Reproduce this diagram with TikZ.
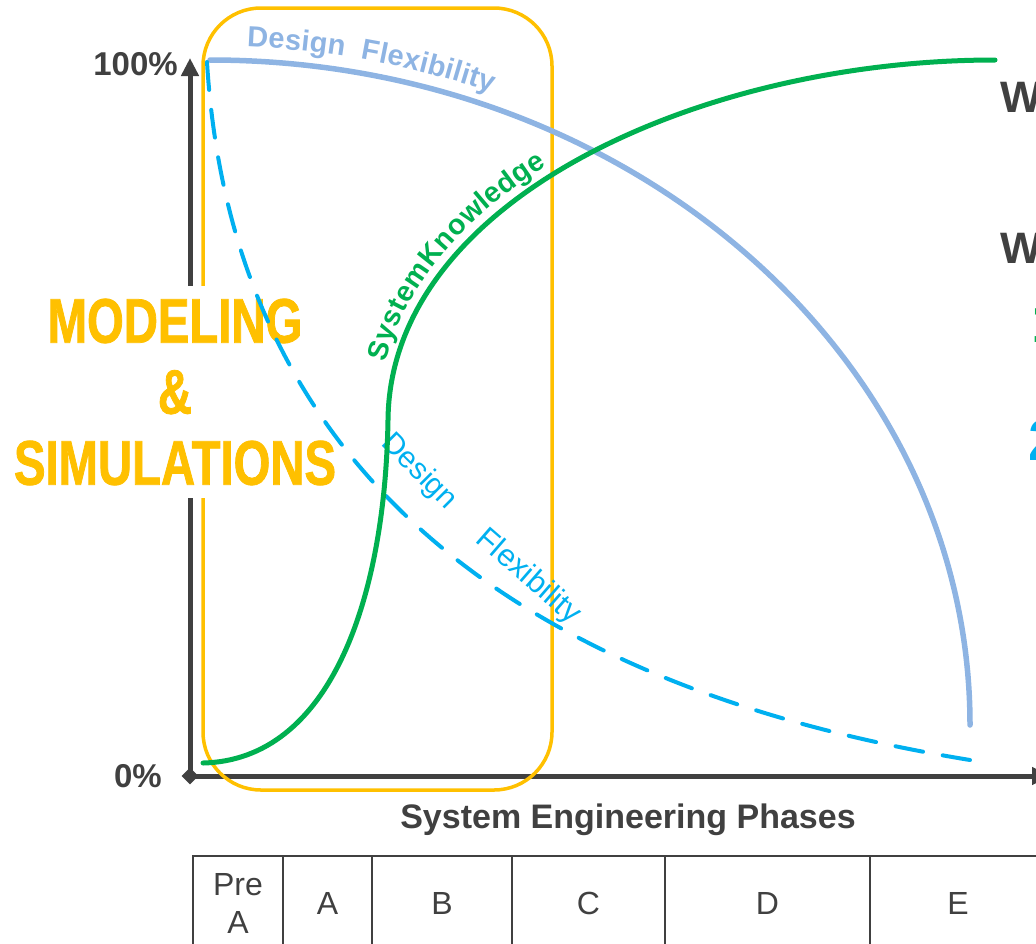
\documentclass[tikz,border=0pt]{standalone}
\usepackage{fontspec}
\setmainfont{Liberation Sans}
\newfontfamily\condfont{Liberation Sans}[FakeStretch=0.75,FakeBold=1.2]
\usetikzlibrary{positioning,arrows.meta,shapes.geometric,decorations.text}

\definecolor{msyellow}{HTML}{FFC000}
\definecolor{flexblue}{HTML}{8EB4E3}
\definecolor{dashblue}{HTML}{00B0F0}
\definecolor{knowgreen}{HTML}{00B050}
\definecolor{axisgray}{HTML}{404040}

\tikzset{
  axis/.style={draw=axisgray, line width=5pt},
  flexline/.style={draw=flexblue, line width=5.5pt, line cap=round},
  flexdash/.style={draw=dashblue, line width=4pt, line cap=round, dash pattern=on 28pt off 20pt},
  knowline/.style={draw=knowgreen, line width=5pt, line cap=round},
  phase/.style={draw=axisgray, line width=1.5pt, minimum height=94pt, outer sep=0pt, inner sep=0pt,
    align=center, text=axisgray, font=\fontsize{32}{38}\selectfont},
  ticklabel/.style={anchor=base east, inner sep=0pt, text=axisgray, font=\bfseries\fontsize{33}{36}\selectfont},
  edgetext/.style={anchor=base west, inner sep=0pt, font=\bfseries\fontsize{44}{48}\selectfont}
}

\begin{document}
\begin{tikzpicture}[x=1pt, y=-1pt]
\useasboundingbox (0,0) rectangle (1036,943);

% axes
\coordinate (origin) at (190,776);
\coordinate (ytip) at (190,58);
\coordinate (xtip) at (1050,776);
\draw[axis, -{Triangle[width=17pt,length=18pt]}] (origin) -- (ytip);
\draw[axis, -{Triangle[width=17pt,length=18pt]}] (origin) -- (xtip);
\node[diamond, fill=axisgray, inner sep=0pt, minimum size=17pt] (corner) at (origin) {};
\node[ticklabel] (top) at (178,75) {100\%};
\node[ticklabel] (bottom) at (162,787) {0\%};
\node[anchor=base, inner sep=0pt, text=axisgray, font=\bfseries\fontsize{34}{36}\selectfont] (xlabel) at (628,828) {System Engineering Phases};

% modeling window
\draw[msyellow, line width=3.5pt, rounded corners=58pt] (203,8) rectangle (552,790);
\node[fill=white, inner xsep=6pt, inner ysep=13pt, align=center, text=msyellow,
  font=\condfont\bfseries\fontsize{63}{71}\selectfont] (ms) at (175,392) {MODELING\\\&\\SIMULATIONS};

% curves
\draw[flexline] (210,60) arc[start angle=-90, end angle=0, x radius=760, y radius=665];
\path[decorate, decoration={text along path, raise=14pt, text align={left indent=36pt}, text color=flexblue,
  text={|\bfseries\fontsize{29}{30}\selectfont|Design{ }{ }Flexibility}}]
  (210,60) arc[start angle=-90, end angle=-30, x radius=760, y radius=665];

\draw[flexdash] (207,62) .. controls (230,440) and (480,680) .. (970,760);
\node[rotate=-45, text=dashblue, inner sep=0pt, font=\fontsize{30}{30}\selectfont] (dsgn) at (419,472) {Design};
\node[rotate=-41, text=dashblue, inner sep=0pt, font=\fontsize{31}{30}\selectfont] (flex) at (528,577) {Flexibility};

\draw[knowline] (203,763) .. controls (330,760) and (385,600) .. (388,420)
  .. controls (390,200) and (700,60) .. (995,60);
\path[decorate, decoration={text along path, raise=10pt, text align={left indent=55pt}, text color=knowgreen,
  text={|\bfseries\fontsize{28.5}{30}\selectfont|SystemKnowledge}}]
  (388,420) .. controls (390,200) and (700,60) .. (995,60);

% right edge
\node[edgetext, text=axisgray] (w1) at (1000,112) {W};
\node[edgetext, text=axisgray] (w2) at (1000,263) {W};
\node[edgetext, text=knowgreen, font=\bfseries\fontsize{58}{60}\selectfont] (n1) at (1031,342) {1};
\node[edgetext, text=dashblue, font=\bfseries\fontsize{58}{60}\selectfont] (n2) at (1028,460) {2};

% phases
\node[phase, minimum width=90pt] (preA) at (238,903) {Pre\\A};
\node[phase, minimum width=89pt, right=0pt of preA] (pA) {A};
\node[phase, minimum width=140pt, right=0pt of pA] (pB) {B};
\node[phase, minimum width=153pt, right=0pt of pB] (pC) {C};
\node[phase, minimum width=205pt, right=0pt of pC] (pD) {D};
\node[phase, minimum width=176pt, right=0pt of pD] (pE) {E};
\end{tikzpicture}
\end{document}
